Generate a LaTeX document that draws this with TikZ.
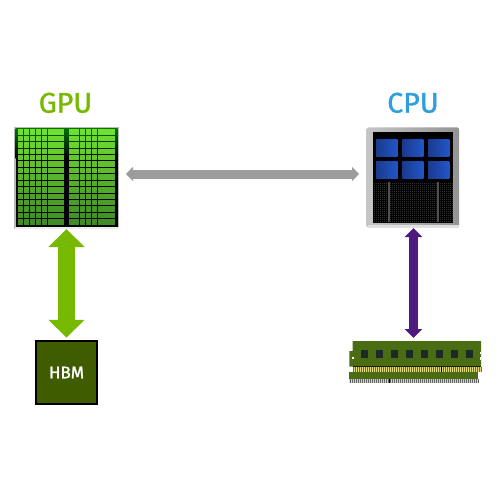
\documentclass[tikz,border=0pt]{standalone}
\usepackage{fontspec}
\setmainfont{Fira Sans}
\newfontfamily\labelfont[FakeBold=1.1]{Fira Sans}
\newfontfamily\boxfont[FakeBold=1.6]{Fira Sans}
\usepackage{xcolor}
\usetikzlibrary{arrows.meta,positioning}

\definecolor{nvgreen}{HTML}{76B900}
\definecolor{cpublue}{HTML}{2F9FDC}
\definecolor{hbmgreen}{HTML}{3F5C00}
\definecolor{linkgray}{HTML}{9C9C9C}
\definecolor{linkpurple}{HTML}{4F1A7E}
\definecolor{celltop}{HTML}{72DE30}
\definecolor{cellbot}{HTML}{3F8C26}
\definecolor{pcb}{HTML}{4A6C12}
\definecolor{gold}{HTML}{E2D884}
\definecolor{chipdark}{HTML}{1B2A28}
\definecolor{bluedark}{HTML}{1A3A8E}
\definecolor{bluelight}{HTML}{2256C8}
\definecolor{meshgray}{HTML}{303030}
\definecolor{stripgray}{HTML}{505050}

\begin{document}
\begin{tikzpicture}[x=1pt,y=-1pt,
    unit/.style = {inner sep=0pt,outer sep=0pt,minimum width=#1},
    title/.style = {inner sep=0pt,outer sep=0pt,font=\labelfont\fontsize{28.5}{28.5}\selectfont},
    biglink/.style = {{Triangle[length=18pt,width=35pt]}-{Triangle[length=18pt,width=35pt]},line width=17pt,nvgreen},
    graylink/.style = {{Triangle[length=7pt,width=14pt]}-{Triangle[length=7pt,width=14pt]},line width=9pt,linkgray},
    purplelink/.style = {{Triangle[length=9pt,width=17pt]}-{Triangle[length=9pt,width=17pt]},line width=9pt,linkpurple}]
      \useasboundingbox (0,0) rectangle (500,500);

      \node[unit=105pt,minimum height=102pt,fill=white] (gpu) at (66.5,178) {};
      \node[unit=92pt,minimum height=101pt] (cpu) at (413,177.5) {};
      \node[unit=61.5pt,minimum height=63.5pt,draw=black,line width=2pt,fill=hbmgreen,text=white,
            font=\boxfont\fontsize{17}{17}\selectfont] (hbm) at (66.5,372.5) {HBM};
      \node[unit=132pt,minimum height=42pt] (ram) at (415,362) {};

      \node[title,text=nvgreen,above=14pt of gpu,xshift=-1pt] (gputitle) {GPU};
      \node[title,text=cpublue,above=14pt of cpu] (cputitle) {CPU};

      % gpu die
      \fill[gray!55] (14,127) rectangle (119,229);
      \fill[white!85!gray] (14.5,227) rectangle (119,229);
      \fill[black] (15.5,128.5) rectangle (117.5,227);
      \shade[top color=green!45!black,bottom color=black] (15.5,128.5) rectangle (117.5,158);
      \foreach \row in {0,...,14} {
        \pgfmathsetmacro{\rowy}{129.3+\row*6.43}
        \pgfmathtruncatemacro{\pct}{100-\row*100/14}
        \foreach \xa/\xb in {18/23.4,24/29.4,30/35.4,36/41,41.7/47.2,47.7/64.3,
                             68.7/73.5,74/79.4,80/85.4,86/91.4,92/97.4,98/115}
          \fill[celltop!\pct!cellbot] (\xa,\rowy) rectangle (\xb,\rowy+5.4);
      }

      % cpu die
      \shade[left color=gray!45,right color=gray!85,rounded corners=2pt] (366.7,127.3) rectangle (459,227.7);
      \fill[gray!25] (368,224.5) rectangle (459,227.7);
      \fill[black] (373,131.7) rectangle (452.7,222.3);
      \foreach \xa/\xb in {376/397.7,402.3/423.3,428/449.3}
        \foreach \ya/\yb in {139.3/156.7,161/178}
          \shade[left color=bluedark,right color=bluelight] (\xa,\ya) rectangle (\xb,\yb);
      \fill[meshgray] (373,182) rectangle (452.7,222.3);
      \foreach \i in {0,...,39}
        \draw[black,line width=.3pt] (373+\i*2,182) -- (373+\i*2,222.3);
      \foreach \i in {0,...,20}
        \draw[black,line width=.3pt] (373,182+\i*2) -- (452.7,182+\i*2);
      \foreach \xa in {387.7,436.7}
        \fill[stripgray] (\xa,182) rectangle (\xa+2.3,222.3);

      % memory modules
      \fill[pcb] (352.7,341) -- (481,341) -- (481,366.5) -- (349.3,366.5) -- (349.3,351) -- (352.7,351) -- cycle;
      \fill[white] (352,356.8) rectangle (354.3,359);
      \fill[white] (479.5,351.5) rectangle (481,354);
      \fill[white] (479.5,357) rectangle (481,359.5);
      \foreach \i in {0,...,7}
        \fill[chipdark] (361+\i*15,350) rectangle (368.3+\i*15,357.7);
      \fill[black!70!pcb] (352.7,365.5) rectangle (481,367);
      \fill[gold] (352.7,367) rectangle (481,371.5);
      \fill[pcb] (349.3,371.5) rectangle (477.7,378.5);
      \fill[gold] (349.3,378.5) rectangle (478,383);
      \foreach \i in {0,...,64} {
        \draw[black!60,line width=.3pt] (353+\i*2,367) -- (353+\i*2,371.5);
        \draw[black!60,line width=.3pt] (350+\i*2,378.5) -- (350+\i*2,383);
      }
      \fill[black] (440.5,367) rectangle (441.5,371.5);
      \fill[black] (388.5,378.5) rectangle (389.5,383);

      \draw[biglink,shorten >=3pt] (gpu.south) to (hbm.north);
      \draw[graylink,shorten <=7pt,shorten >=8pt] ([yshift=4pt]gpu.east) to ([yshift=4pt]gpu.east -| cpu.west);
      \draw[purplelink,shorten >=3pt] ([xshift=.5pt]cpu.south) to ([xshift=.5pt]cpu.south |- ram.north);
\end{tikzpicture}
\end{document}
